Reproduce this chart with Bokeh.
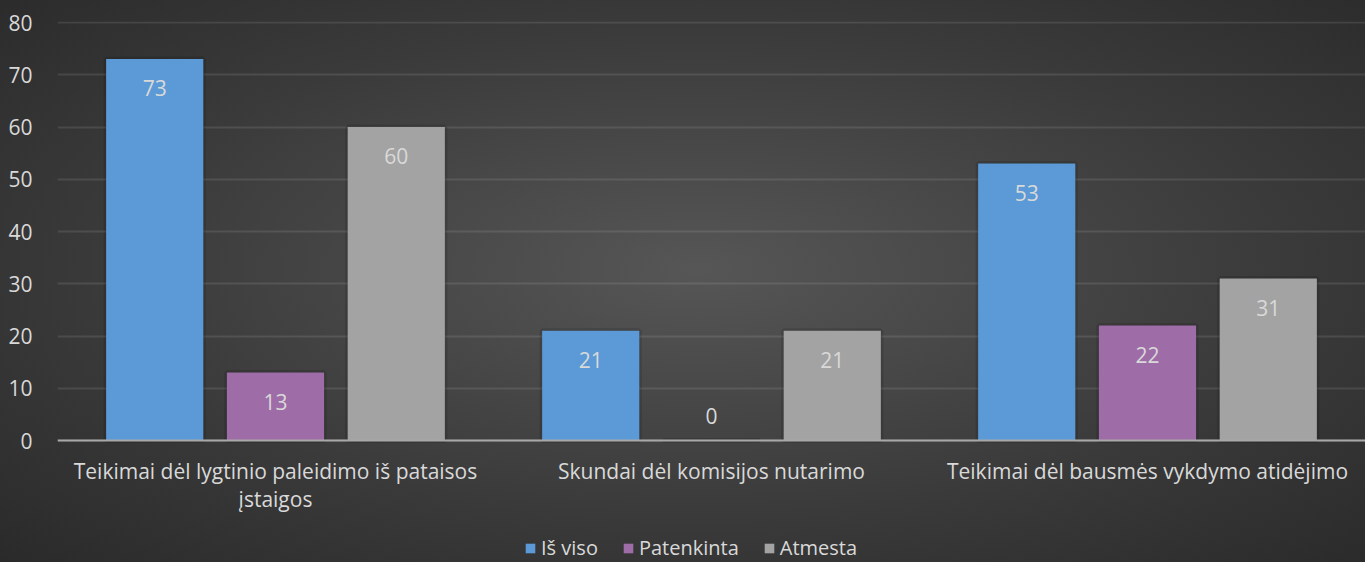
from bokeh.plotting import figure
from bokeh.models import ColumnDataSource, Legend, LegendItem, FixedTicker, Span
from bokeh.core.properties import value
from bokeh.embed import file_html
from bokeh.resources import INLINE

# ---- data ----
categories = [
    "Teikimai dėl lygtinio paleidimo iš pataisos\nįstaigos",
    "Skundai dėl komisijos nutarimo",
    "Teikimai dėl bausmės vykdymo atidėjimo",
]
series_names = ["Iš viso", "Patenkinta", "Atmesta"]
is_viso = [73, 21, 53]
patenkinta = [13, 0, 22]
atmesta = [60, 21, 31]
y_ticks = [0, 10, 20, 30, 40, 50, 60, 70, 80]

# ---- style ----
FONT = "Open Sans"
TXT = "#d9d9d9"
FS = "21px"
colors = ["#5b9ad6", "#9e6ca7", "#a3a3a3"]
offsets = [-0.277, 0.0, 0.277]
BAR_W = 0.223
Y_TOP = 80.2
PPU = 419 / Y_TOP            # pixels per unit on the value axis
FRAME_W, FRAME_H = 1308, 541  # frame reaches the bottom so the legend fits inside
Y_BOTTOM = Y_TOP - FRAME_H / PPU
LABEL_DROP = 29 / PPU
LABEL_RISE = 25 / PPU

p = figure(frame_width=FRAME_W, frame_height=FRAME_H,
           x_range=(0, len(categories)), y_range=(Y_BOTTOM, Y_TOP),
           output_backend="svg", toolbar_location=None,
           min_border_left=57, min_border_right=0,
           min_border_top=21, min_border_bottom=0)
p.background_fill_alpha = 0
p.border_fill_alpha = 0
p.outline_line_color = None

centers = [i + 0.5 for i in range(len(categories))]
all_series = [is_viso, patenkinta, atmesta]
legend_items = []
for name, vals, col, off in zip(series_names, all_series, colors, offsets):
    xs = [c + off for c in centers]
    src = ColumnDataSource(dict(x=xs, top=vals,
                                ly=[v - LABEL_DROP if v > 0 else v + LABEL_RISE for v in vals],
                                lab=[str(v) for v in vals]))
    p.vbar(x="x", top="top", bottom=0, width=BAR_W, source=src,
           fill_color="black", fill_alpha=0.18, line_color="black", line_alpha=0.12,
           line_width=5)
    r = p.vbar(x="x", top="top", bottom=0, width=BAR_W, source=src,
               fill_color=col, line_color=None)
    legend_items.append(LegendItem(label=name, renderers=[r]))
    p.text(x="x", y="ly", text="lab", source=src, text_align="center",
           text_baseline="middle", text_color=TXT, text_font=value(FONT),
           text_font_size=FS)

p.add_layout(Span(location=0, dimension="width", line_color="#a8a8a8", line_width=2))

p.xgrid.visible = False
p.ygrid.grid_line_color = "white"
p.ygrid.grid_line_alpha = 0.1
p.ygrid.grid_line_width = 2

p.yaxis.ticker = FixedTicker(ticks=y_ticks)
p.xaxis.ticker = FixedTicker(ticks=centers)
p.xaxis.major_label_overrides = {c: lab for c, lab in zip(centers, categories)}
p.xaxis.fixed_location = 0
for ax in (p.xaxis, p.yaxis):
    ax.axis_line_color = None
    ax.major_tick_line_color = None
    ax.minor_tick_line_color = None
    ax.major_label_text_color = TXT
    ax.major_label_text_font = FONT
    ax.major_label_text_font_size = FS
p.yaxis.major_label_standoff = 19
p.xaxis.major_label_standoff = 10
p.xaxis.major_label_text_line_height = 1.0

legend = Legend(items=legend_items, orientation="horizontal", location=(467, 1),
                background_fill_alpha=0, border_line_alpha=0,
                label_text_color=TXT, label_text_font=FONT, label_text_font_size="20px",
                glyph_width=12, glyph_height=12, spacing=24, label_standoff=5,
                padding=0, margin=0)
p.add_layout(legend, "center")

html = file_html(p, INLINE)
css = ("<style>html{background: radial-gradient(ellipse at 51% 48%, #565656 0%, "
       "#3a3a3a 60%, #2a2a2a 100%); min-height:100%;}</style>")
html = html.replace("<head>", "<head>" + css, 1)
open("out.html", "w").write(html)
